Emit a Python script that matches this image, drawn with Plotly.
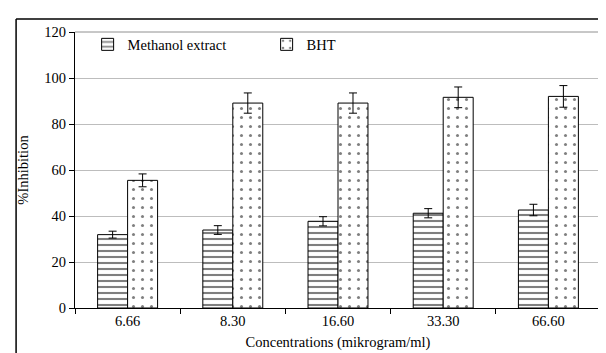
import plotly.graph_objects as go

categories = ["6.66", "8.30", "16.60", "33.30", "66.60"]
methanol = [31.9, 33.9, 37.7, 41.2, 42.6]
methanol_err = [1.5, 1.9, 2.0, 2.0, 2.5]
bht = [55.5, 89.1, 89.1, 91.6, 92.0]
bht_err = [2.8, 4.4, 4.4, 4.5, 4.7]
yticks = [0, 20, 40, 60, 80, 100, 120]

FONT = "Liberation Serif, Times New Roman, serif"
FS = 14.5

fig = go.Figure()
fig.add_trace(go.Bar(
    name="Methanol extract", x=categories, y=methanol,
    error_y=dict(type="data", array=methanol_err, color="black", thickness=1, width=4),
    marker=dict(color="white", line=dict(color="black", width=1),
                pattern=dict(shape="-", fgcolor="black", bgcolor="white", size=6, solidity=0.35)),
))
fig.add_trace(go.Bar(
    name="BHT", x=categories, y=bht,
    error_y=dict(type="data", array=bht_err, color="black", thickness=1, width=4),
    marker=dict(color="white", line=dict(color="black", width=1),
                pattern=dict(shape=".", fgcolor="black", bgcolor="white", size=9, solidity=0.09)),
))

fig.update_layout(
    width=606, height=353,
    margin=dict(l=67, r=13, t=24, b=53),
    paper_bgcolor="white", plot_bgcolor="white",
    font=dict(family=FONT, size=FS, color="black"),
    barmode="group", bargap=0.43, bargroupgap=0,
    showlegend=True,
    legend=dict(orientation="h", x=0.024, y=0.955, xanchor="left", yanchor="middle",
                bgcolor="rgba(0,0,0,0)", font=dict(family=FONT, size=FS),
                entrywidth=134, entrywidthmode="pixels", itemwidth=30),
    xaxis=dict(
        title=dict(text="Concentrations (mikrogram/ml)", font=dict(family=FONT, size=FS), standoff=8),
        showline=True, linecolor="black", linewidth=1, mirror=False,
        ticks="outside", ticklen=5, tickcolor="black", tickson="boundaries",
        showgrid=False, tickfont=dict(family=FONT, size=FS),
    ),
    yaxis=dict(
        title=dict(text="%Inhibition", font=dict(family=FONT, size=FS), standoff=12),
        range=[0, 120], tickvals=yticks, ticktext=[str(v) for v in yticks],
        showline=True, linecolor="black", linewidth=1,
        ticks="outside", ticklen=5, tickcolor="black",
        showgrid=True, gridcolor="#bdbdbd", gridwidth=1,
        tickfont=dict(family=FONT, size=FS), zeroline=False,
    ),
    shapes=[
        dict(type="line", xref="paper", yref="paper", x0=0, x1=1, y0=1, y1=1,
             line=dict(color="#909090", width=1)),
        dict(type="line", xref="paper", yref="paper", x0=1, x1=1, y0=0, y1=1,
             line=dict(color="#909090", width=1)),
        dict(type="line", xref="paper", yref="paper", x0=-0.112, x1=-0.112, y0=-0.2, y1=1.047,
             line=dict(color="black", width=1.5)),
        dict(type="line", xref="paper", yref="paper", x0=-0.112, x1=1.03, y0=1.047, y1=1.047,
             line=dict(color="black", width=1.5)),
    ],
)

fig.write_html("out.html")
